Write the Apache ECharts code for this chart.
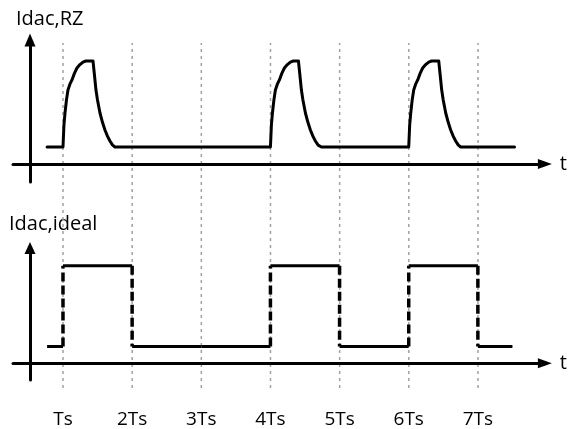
<!DOCTYPE html>
<html>
<head>
<meta charset="utf-8">
<script src="https://cdn.jsdelivr.net/npm/echarts@6/dist/echarts.min.js"></script>
<style>
html,body{margin:0;padding:0;background:#fff;}
#c{width:568px;height:429px;}
</style>
</head>
<body>
<div id="c"></div>
<script>
// ---- data ----
const ticks = [1, 2, 3, 4, 5, 6, 7];
const tickLabels = ['Ts', '2Ts', '3Ts', '4Ts', '5Ts', '6Ts', '7Ts'];

// RZ waveform (time in Ts, amplitude normalised to peak)
const rzT = [0.77, 1.0, 1.014, 1.029, 1.05, 1.072, 1.1, 1.13, 1.165, 1.202, 1.245, 1.289, 1.33, 1.434, 1.455, 1.477, 1.499, 1.535, 1.571, 1.607, 1.643, 1.679, 1.715, 1.751,
             4.0, 4.014, 4.029, 4.05, 4.072, 4.1, 4.13, 4.165, 4.202, 4.245, 4.289, 4.33, 4.405, 4.426, 4.448, 4.47, 4.506, 4.542, 4.578, 4.614, 4.65, 4.69, 4.737,
             6.0, 6.014, 6.029, 6.05, 6.072, 6.1, 6.13, 6.165, 6.202, 6.245, 6.289, 6.33, 6.434, 6.455, 6.477, 6.499, 6.535, 6.571, 6.607, 6.643, 6.679, 6.715, 6.751, 7.53];
const rzV = [0.165, 0.165, 0.38, 0.495, 0.62, 0.718, 0.775, 0.816, 0.88, 0.932, 0.965, 0.99, 1.0, 1.0, 0.864, 0.718, 0.621, 0.495, 0.405, 0.33, 0.27, 0.223, 0.185, 0.165,
             0.165, 0.38, 0.495, 0.62, 0.718, 0.775, 0.816, 0.88, 0.932, 0.965, 0.99, 1.0, 1.0, 0.864, 0.718, 0.621, 0.495, 0.405, 0.33, 0.27, 0.223, 0.183, 0.165,
             0.165, 0.38, 0.495, 0.62, 0.718, 0.775, 0.816, 0.88, 0.932, 0.965, 0.99, 1.0, 1.0, 0.864, 0.718, 0.621, 0.495, 0.405, 0.33, 0.27, 0.223, 0.185, 0.165, 0.165];

// ideal NRZ waveform: interval boundaries and level in each interval
const idealEdges = [0.77, 1, 2, 3, 4, 5, 6, 7, 7.5];
const idealLevels = [0.171, 1, 0.171, 0.171, 1, 0.171, 1, 0.171];

const FONT = "'Open Sans', 'DejaVu Sans', sans-serif";
const XMIN = 0.2771, XMAX = 7.969;

const chart = echarts.init(document.getElementById('c'), null, {renderer: 'canvas'});

function mainX(gridIndex, withLabels) {
  return {
    type: 'value', gridIndex: gridIndex, min: XMIN, max: XMAX, z: 3,
    name: 't', nameLocation: 'end', nameGap: 15,
    nameTextStyle: {fontSize: 20, fontFamily: FONT, color: '#000'},
    axisLine: {onZero: true, symbol: ['none', 'triangle'], symbolSize: [10, 14], lineStyle: {color: '#000', width: 3}},
    axisTick: {show: false},
    splitLine: {show: false},
    axisLabel: withLabels ? {
      show: true, customValues: ticks, margin: 30, fontSize: 19, fontFamily: FONT, color: '#000',
      formatter: function (v) { const i = ticks.indexOf(v); return i >= 0 ? tickLabels[i] : ''; }
    } : {show: false}
  };
}
function mainY(gridIndex, min, max, arrow) {
  return {
    type: 'value', gridIndex: gridIndex, min: min, max: max, offset: -17, z: 3,
    axisLine: {onZero: false, symbol: ['none', 'triangle'], symbolSize: arrow, lineStyle: {color: '#000', width: 3}},
    axisTick: {show: false}, axisLabel: {show: false}, splitLine: {show: false}
  };
}

const series = [];
// grey guide lines
ticks.forEach(function (t) {
  series.push({
    type: 'line', xAxisIndex: 2, yAxisIndex: 2, z: 1, silent: true, symbol: 'none',
    data: [[t, 0], [t, 1]],
    lineStyle: {color: '#a0a0a0', width: 1.5, type: [3, 4]}
  });
});
// RZ waveform
series.push({
  type: 'line', xAxisIndex: 0, yAxisIndex: 0, z: 2, symbol: 'none', silent: true,
  data: rzT.map(function (t, i) { return [t, rzV[i]]; }),
  lineStyle: {color: '#000', width: 3, join: 'round', cap: 'round'}
});
// ideal waveform: solid horizontal parts
idealLevels.forEach(function (lv, i) {
  series.push({
    type: 'line', xAxisIndex: 1, yAxisIndex: 1, z: 2, symbol: 'none', silent: true,
    data: [[idealEdges[i], lv], [idealEdges[i + 1], lv]],
    lineStyle: {color: '#000', width: 3}
  });
});
// ideal waveform: dashed transitions
for (let i = 1; i < idealLevels.length; i++) {
  if (idealLevels[i] !== idealLevels[i - 1]) {
    series.push({
      type: 'line', xAxisIndex: 1, yAxisIndex: 1, z: 2, symbol: 'none', silent: true,
      data: [[idealEdges[i], idealLevels[i - 1]], [idealEdges[i], idealLevels[i]]],
      lineStyle: {color: '#000', width: 3.5, type: [9, 4]}
    });
  }
}

chart.setOption({
  animation: false,
  backgroundColor: '#fff',
  grid: [
    {left: 13, right: 23, top: 40, bottom: 247},
    {left: 13, right: 23, top: 248, bottom: 39},
    {left: 13, right: 23, top: 43, bottom: 41}
  ],
  xAxis: [
    mainX(0, false),
    mainX(1, true),
    {type: 'value', gridIndex: 2, min: XMIN, max: XMAX, show: false}
  ],
  yAxis: [
    mainY(0, -0.175, 1.204, [11, 13]),
    mainY(1, -0.1714, 1.181, [11, 12]),
    {type: 'value', gridIndex: 2, min: 0, max: 1, show: false}
  ],
  graphic: [
    {type: 'text', left: 16, top: 9, style: {text: 'Idac,RZ', font: '20px ' + FONT, fill: '#000'}},
    {type: 'text', left: 9, top: 214, style: {text: 'Idac,ideal', font: '20px ' + FONT, fill: '#000'}}
  ],
  series: series
});
</script>
</body>
</html>
